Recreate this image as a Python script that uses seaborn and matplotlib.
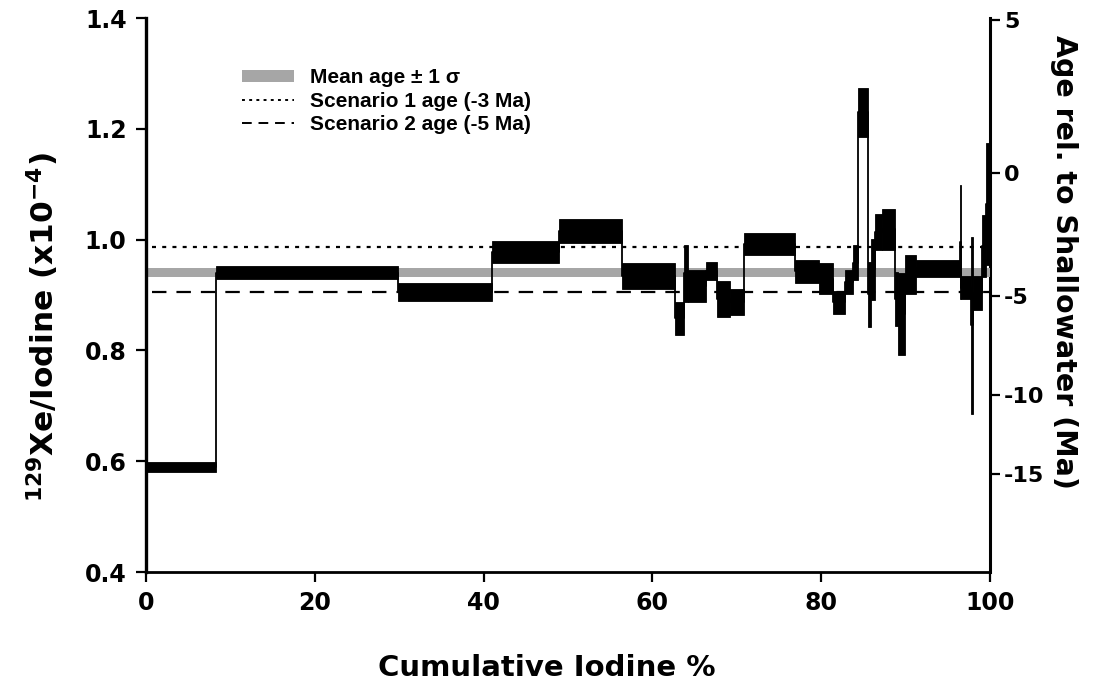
import numpy as np
import pandas as pd
import matplotlib
matplotlib.use("Agg")
import matplotlib.pyplot as plt
from matplotlib.patches import Patch
from matplotlib.lines import Line2D
import seaborn as sns

# step edges (cumulative iodine %) and 1-sigma range of 129Xe/I for each step
step_edges = [0, 8.3, 29.9, 41.0, 48.9, 56.4, 62.7, 63.7, 64.2, 66.4, 67.7,
              69.2, 70.8, 76.9, 79.8, 81.4, 82.8, 83.8, 84.4, 85.6, 85.95,
              86.4, 87.2, 88.7, 89.1, 89.9, 91.2, 96.4, 96.6, 97.7, 97.95,
              99.1, 99.5, 100]
ratio_lo = [0.581, 0.928, 0.890, 0.958, 0.993, 0.910, 0.828, 0.888, 0.888,
            0.927, 0.860, 0.864, 0.973, 0.921, 0.902, 0.866, 0.902, 0.927,
            1.186, 0.843, 0.891, 0.981, 0.981, 0.844, 0.792, 0.901, 0.933,
            0.893, 0.892, 0.686, 0.873, 0.933, 0.954]
ratio_hi = [0.598, 0.952, 0.921, 0.998, 1.037, 0.958, 0.888, 0.990, 0.946,
            0.959, 0.925, 0.910, 1.012, 0.964, 0.957, 0.908, 0.946, 0.990,
            1.273, 0.960, 1.002, 1.047, 1.056, 0.941, 0.940, 0.972, 0.963,
            1.099, 0.934, 1.005, 0.935, 1.044, 1.174]

mean_band = [0.933, 0.949]      # mean age +/- 1 sigma
scenario1_ratio = 0.986         # -3 Ma
scenario2_ratio = 0.905         # -5 Ma
age_ticks = [5, 0, -5, -10, -15]

# ratio <-> age relative to Shallowater (129I half-life 15.7 Ma)
R0 = 1.12
LAMBDA = np.log(2) / 15.7


def ratio_to_age(r):
    r = np.clip(np.asarray(r, dtype=float), 1e-6, None)
    return np.log(r / R0) / LAMBDA


def age_to_ratio(t):
    return R0 * np.exp(LAMBDA * np.asarray(t, dtype=float))


edges = np.array(step_edges)
df = pd.DataFrame({
    "left": edges[:-1],
    "width": np.diff(edges),
    "lo": ratio_lo,
    "hi": ratio_hi,
})
df["mid"] = (df["lo"] + df["hi"]) / 2
steps = pd.DataFrame({
    "x": list(df["left"]) + [edges[-1]],
    "y": list(df["mid"]) + [df["mid"].iloc[-1]],
})

sns.set_style("ticks")
plt.rcParams["font.family"] = ["DejaVu Sans"]
plt.rcParams["font.weight"] = "bold"
plt.rcParams["axes.unicode_minus"] = False
plt.rcParams["mathtext.fontset"] = "dejavusans"
for key in ["text.color", "axes.labelcolor", "axes.edgecolor",
            "xtick.color", "ytick.color"]:
    plt.rcParams[key] = "black"

fig = plt.figure(figsize=(11.05, 6.9), dpi=100)
ax = fig.add_axes([0.1321, 0.171, 0.7638, 0.8029])

ax.axhspan(mean_band[0], mean_band[1], xmin=0, xmax=1, color="#a6a6a6",
           lw=0, zorder=1)
ax.hlines(scenario1_ratio, 0.7, 100, colors="black", lw=1.6,
          linestyles=(0, (1.8, 2.8)), zorder=2)
ax.hlines(scenario2_ratio, 0.7, 100, colors="black", lw=1.6,
          linestyles=(0, (6.5, 4.5)), zorder=2)

sns.lineplot(data=steps, x="x", y="y", ax=ax, color="black", lw=1.3,
             drawstyle="steps-post", sort=False, estimator=None, zorder=3)
ax.bar(df["left"], df["hi"] - df["lo"], width=df["width"], bottom=df["lo"],
       align="edge", color="black", edgecolor="black", lw=0.6, zorder=4)

ax.set_xlim(0, 100)
ax.set_ylim(0.4, 1.4)
ax.set_xticks([0, 20, 40, 60, 80, 100])
ax.set_yticks([0.4, 0.6, 0.8, 1.0, 1.2, 1.4])
ax.set_yticklabels(["0.4", "0.6", "0.8", "1.0", "1.2", "1.4"])
ax.tick_params(axis="both", labelsize=17, width=1.6, length=7, pad=7)
for lab in ax.get_xticklabels() + ax.get_yticklabels():
    lab.set_fontweight("bold")

for side in ["top", "right"]:
    ax.spines[side].set_visible(False)
ax.spines["left"].set_linewidth(2.4)
ax.spines["bottom"].set_linewidth(2.0)

ax.set_xlabel("Cumulative Iodine %", fontsize=21, fontweight="bold")
ax.xaxis.set_label_coords(0.475, -0.148)
ax.set_ylabel(r"$^{129}$Xe/Iodine (x10$^{-4}$)", fontsize=22.5,
              fontweight="bold")
ax.yaxis.set_label_coords(-0.101, 0.442)

ax2 = ax.secondary_yaxis("right", functions=(ratio_to_age, age_to_ratio))
ax2.set_yticks(age_ticks)
ax2.set_yticklabels([str(t) for t in age_ticks])
ax2.tick_params(labelsize=16, width=1.6, length=7, pad=3, colors="black")
for lab in ax2.get_yticklabels():
    lab.set_fontweight("bold")
ax2.spines["right"].set_linewidth(2.2)
ax2.spines["right"].set_color("black")
ax2.set_ylabel("Age rel. to Shallowater (Ma)", fontsize=20.5,
               fontweight="bold", rotation=270, va="center")
ax2.yaxis.set_label_coords(1.088, 0.56, transform=ax.transAxes)

handles = [
    Patch(facecolor="#a6a6a6", edgecolor="none"),
    Line2D([], [], color="black", lw=1.4, ls=(0, (1.5, 2.2))),
    Line2D([], [], color="black", lw=1.4, ls=(0, (5, 3.5))),
]
labels = ["Mean age \u00b1 1 \u03c3", "Scenario 1 age (-3 Ma)",
          "Scenario 2 age (-5 Ma)"]
ax.legend(handles, labels, loc="upper left", bbox_to_anchor=(0.091, 0.943),
          frameon=False, handlelength=2.5, handleheight=0.5,
          handletextpad=0.8, labelspacing=0.2,
          prop={"family": "Liberation Sans", "weight": "bold", "size": 15})

fig.savefig("out.png", dpi=100)
